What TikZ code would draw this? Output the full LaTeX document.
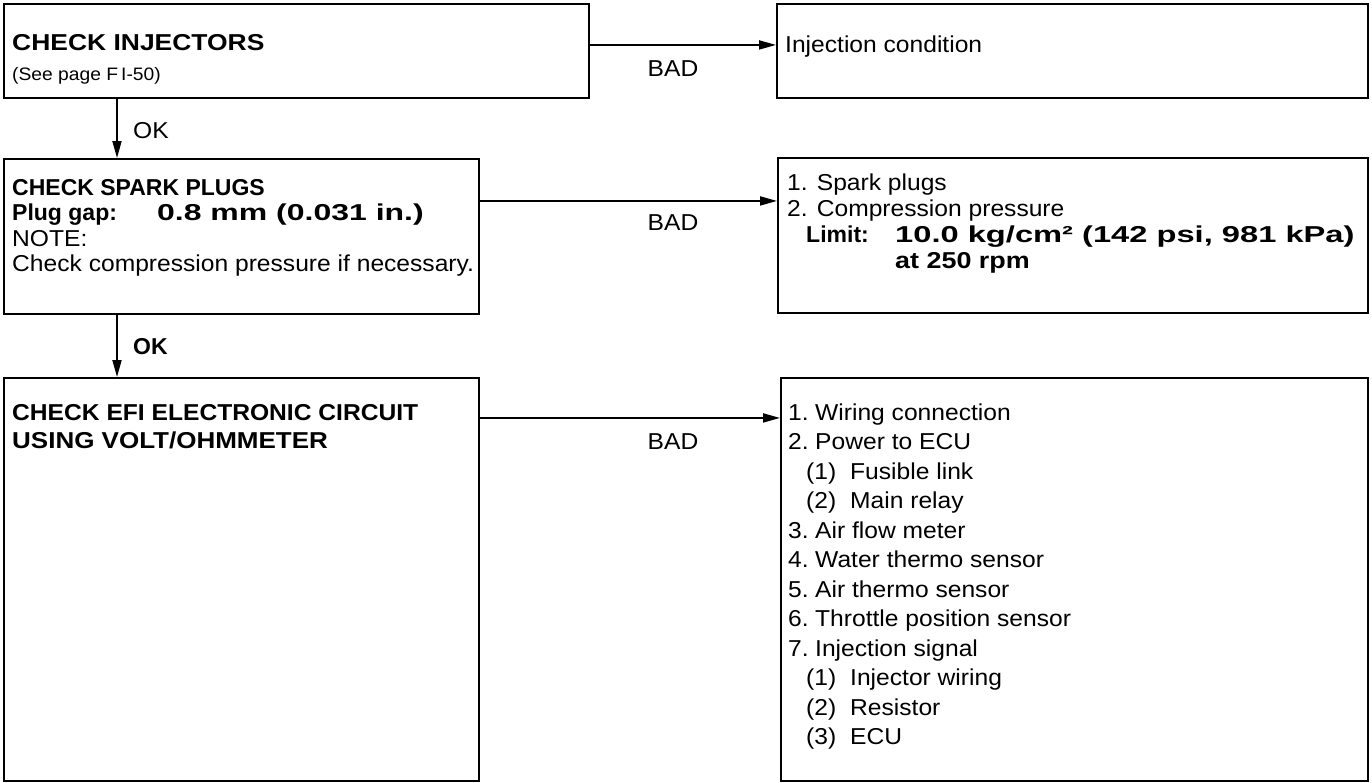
\documentclass[tikz,border=0pt]{standalone}
\usepackage{fontspec}
\usepackage{graphicx}
\setmainfont{Liberation Sans}[FakeStretch=1.07]
\newfontfamily\boldf{Liberation Sans Bold}
\newcommand{\sxw}[2]{\scalebox{#1}[1]{#2}}
\usetikzlibrary{arrows.meta}
\begin{document}
\begin{tikzpicture}[x=1pt,y=-1pt,
  box/.style={draw, line width=1.9pt, inner sep=0pt, anchor=north west},
  txt/.style={anchor=base west, inner sep=0pt, font=\fontsize{23}{23}\selectfont},
  btxt/.style={anchor=base west, inner sep=0pt, font=\fontsize{23}{23}\boldf},
  small/.style={anchor=base west, inner sep=0pt, font=\fontsize{18}{18}\selectfont},
  lbl/.style={anchor=base, inner sep=0pt, font=\fontsize{23}{23}\selectfont},
  conn/.style={line width=1.9pt, -{Triangle[length=17pt,width=9pt]}},
]
\useasboundingbox (0,0) rectangle (1372,782);

% boxes
\node[box, minimum width=585pt, minimum height=94pt] (b1) at (3,3) {};
\node[box, minimum width=591pt, minimum height=94pt] (b1r) at (776,3) {};
\node[box, minimum width=475pt, minimum height=155pt] (b2) at (3,158) {};
\node[box, minimum width=590pt, minimum height=155pt] (b2r) at (777,157) {};
\node[box, minimum width=475pt, minimum height=403pt] (b3) at (3,377) {};
\node[box, minimum width=587pt, minimum height=403pt] (b3r) at (780,377) {};

% texts box 1
\node[btxt] (t1a) at (12,50) {\sxw{1.15}{CHECK INJECTORS}};
\node[small] (t1b) at (12,80) {(See page F\,I-50)};
\node[txt] (t1r) at (785,52) {Injection condition};

% texts box 2
\node[btxt] (t2a) at (12,195) {CHECK SPARK PLUGS};
\node[btxt] (t2b) at (12,220.5) {Plug gap:};
\node[btxt] (t2b2) at (157,220.5) {\sxw{1.39}{0.8 mm (0.031 in.)}};
\node[txt] (t2c) at (12,246) {NOTE:};
\node[txt] (t2d) at (12,271.5) {Check compression pressure if necessary.};

\node[txt] (t2r1) at (787,190) {1. Spark plugs};
\node[txt] (t2r2) at (787,216) {2. Compression pressure};
\node[btxt] (t2r3) at (806,242) {Limit:};
\node[btxt] (t2r4) at (895,242) {\sxw{1.42}{10.0 kg/cm² (142 psi, 981 kPa)}};
\node[btxt] (t2r5) at (895,268) {\sxw{1.17}{at 250 rpm}};

% texts box 3
\node[btxt] (t3a) at (12,420) {\sxw{1.07}{CHECK EFI ELECTRONIC CIRCUIT}};
\node[btxt] (t3b) at (12,448) {\sxw{1.13}{USING VOLT/OHMMETER}};

\foreach \i/\x/\n/\t in {0/788/1./Wiring connection,
                      1/788/2./Power to ECU,
                      2/806/(1)/Fusible link,
                      3/806/(2)/Main relay,
                      4/788/3./Air flow meter,
                      5/788/4./Water thermo sensor,
                      6/788/5./Air thermo sensor,
                      7/788/6./Throttle position sensor,
                      8/788/7./Injection signal,
                      9/806/(1)/Injector wiring,
                      10/806/(2)/Resistor,
                      11/806/(3)/ECU} {
  \node[txt] (r\i) at (\x,420+29.5*\i) {\makebox[0pt][l]{\n}\hspace{\ifnum\i=2 44pt\else\ifnum\i=3 44pt\else\ifnum\i>8 44pt\else 27pt\fi\fi\fi}\t};
}

% connectors
\draw[conn] ([yshift=6pt]b1.east) -- ([yshift=6pt]b1.east -| b1r.west);
\draw[conn] ([yshift=35.5pt]b2.east) -- ([yshift=35.5pt]b2.east -| b2r.west);
\draw[conn] ([yshift=161.5pt]b3.east) -- ([yshift=161.5pt]b3.east -| b3r.west);
\draw[conn] ([xshift=114pt]b1.south west) -- ([xshift=114pt]b1.south west |- b2.north);
\draw[conn] ([xshift=114pt]b2.south west) -- ([xshift=114pt]b2.south west |- b3.north);

% connector labels
\node[lbl] (bad1) at (673,76) {BAD};
\node[lbl] (bad2) at (673,230) {BAD};
\node[lbl] (bad3) at (673,449) {BAD};
\node[txt] (ok1) at (133,138) {OK};
\node[btxt] (ok2) at (133,354) {OK};
\end{tikzpicture}
\end{document}
